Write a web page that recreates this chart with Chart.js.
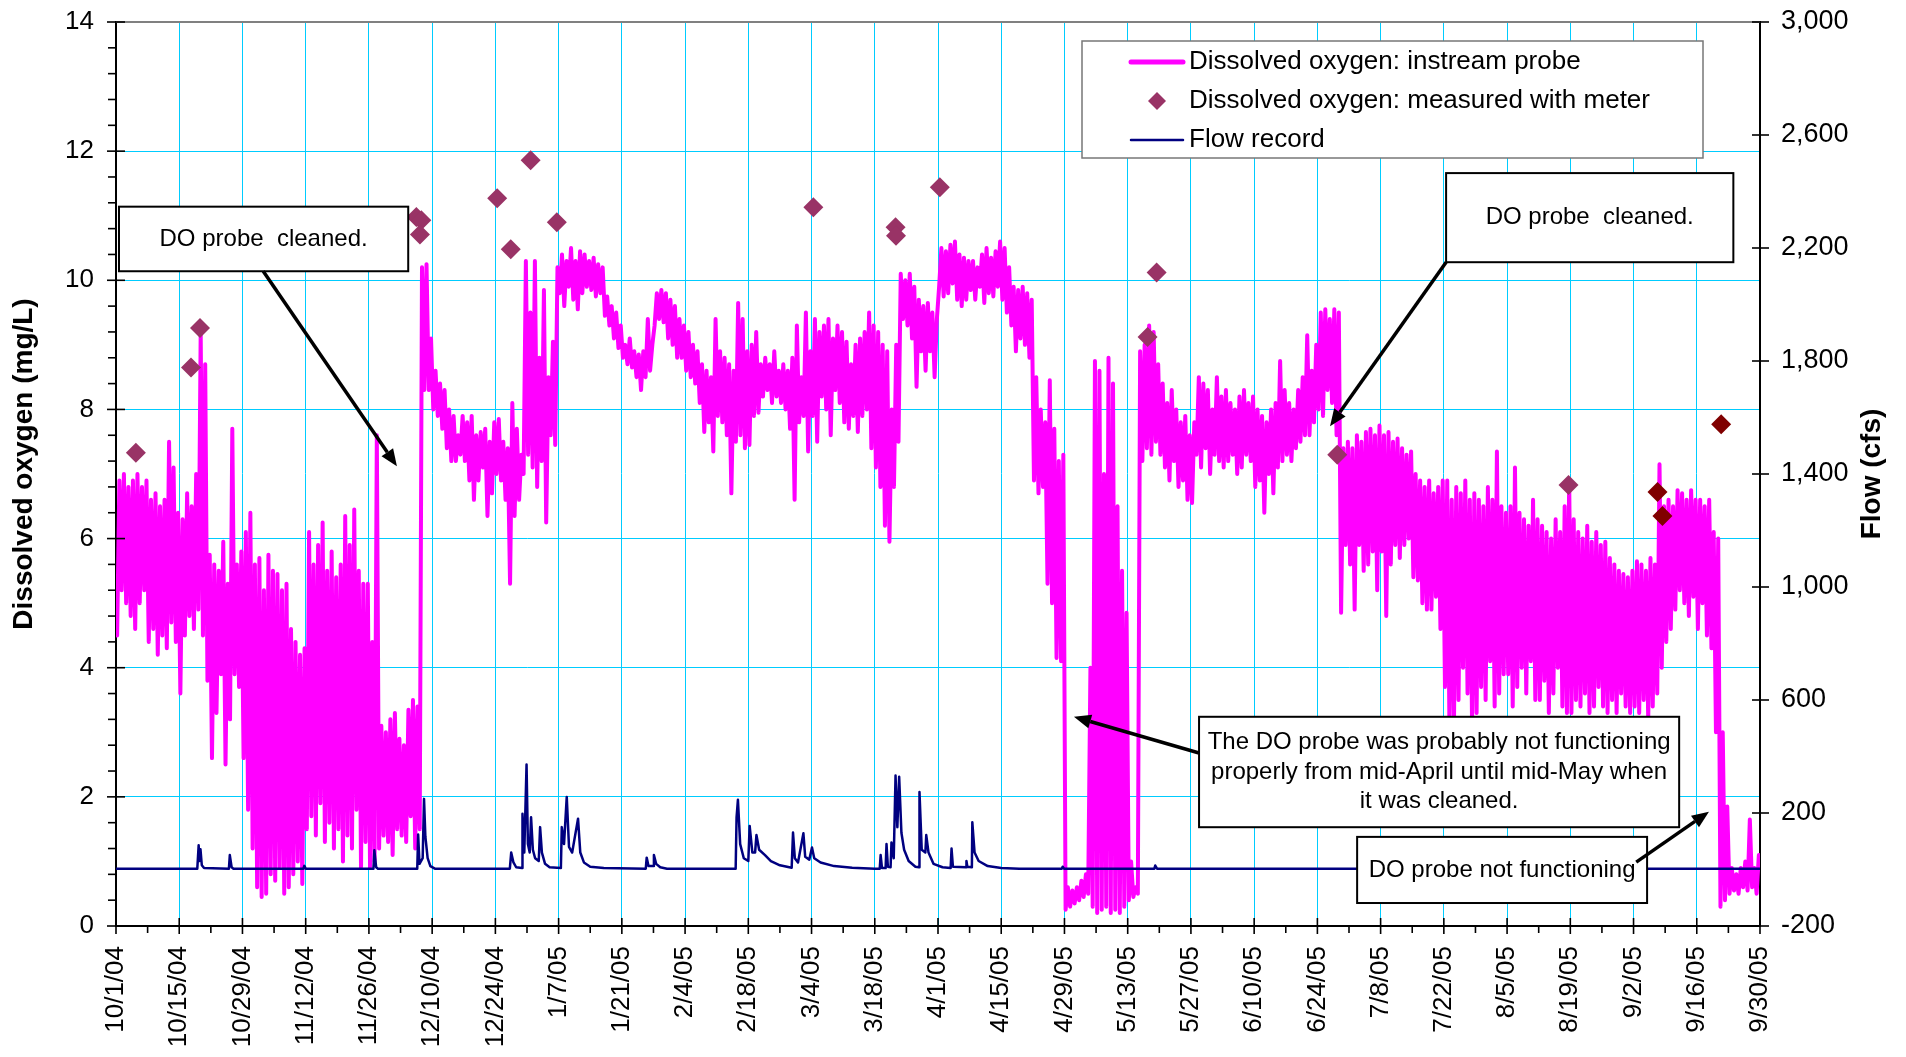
<!DOCTYPE html>
<html>
<head>
<meta charset="utf-8">
<script src="https://cdn.jsdelivr.net/npm/chart.js@4.4.1/dist/chart.umd.min.js"></script>
<style>
html,body{margin:0;padding:0;background:#fff;}
#wrap{width:1906px;height:1057px;position:relative;}
</style>
</head>
<body>
<div id="wrap"><canvas id="c" width="1906" height="1057"></canvas></div>
<script>
// ---------- DATA ----------
// x axis: days since 10/1/04, labelled every 14 days
const tickLabels = ['10/1/04','10/15/04','10/29/04','11/12/04','11/26/04','12/10/04','12/24/04','1/7/05','1/21/05','2/4/05','2/18/05','3/4/05','3/18/05','4/1/05','4/15/05','4/29/05','5/13/05','5/27/05','6/10/05','6/24/05','7/8/05','7/22/05','8/5/05','8/19/05','9/2/05','9/16/05','9/30/05'];

// Instream probe: daily maximum DO (mg/L), day 0 = 10/1/04
const doMax = [
6.9,7.0,6.8,6.9,7.0,6.8,6.9,  6.6,6.7,6.5,6.6,7.5,7.1,6.4,
6.3,6.7,6.5,7.0,9.2,8.7,5.75, 5.6,5.5,5.95,5.3,7.7,5.6,5.8,
6.1,6.4,5.6,5.7,5.2,5.75,5.5, 5.45,5.2,5.3,4.6,4.4,4.2,4.3,
6.1,5.6,5.9,6.25,5.5,5.8,5.4, 5.6,6.35,5.9,6.45,5.5,5.3,5.3,
4.4,7.6,3.1,3.0,3.2,3.3,2.9,  2.8,3.35,3.5,3.4,10.2,10.25,9.1,
8.6,8.4,8.3,8.0,7.9,7.6,7.9,  7.8,7.9,7.6,7.65,7.7,7.5,7.8,
7.85,7.5,7.4,8.1,7.7,7.3,10.3, 9.5,10.3,8.8,9.85,8.5,9.05,10.2,
10.4,10.3,10.5,10.3,10.45,10.4,10.3, 10.35,10.25,10.2,9.75,9.6,9.5,9.3,
9.0,9.1,8.9,8.85,8.9,9.4,9.0, 9.8,9.85,9.8,9.7,9.6,9.4,9.3,
9.2,9.0,8.9,8.7,8.6,8.5,9.4,  8.9,8.8,8.7,8.6,9.65,9.4,8.9,
9.0,9.2,8.7,8.8,8.7,8.9,8.6,  8.7,8.6,8.8,9.3,8.5,9.5,8.9,
9.4,9.2,9.3,9.4,9.1,9.3,9.2,  9.05,8.7,9.0,9.1,9.2,9.5,9.3,
9.2,9.0,8.9,8.0,9.0,10.1,10.0, 10.1,9.9,9.7,9.6,9.65,9.5,9.4,
10.5,10.45,10.55,10.6,10.4,10.35,10.3, 10.3,10.2,10.4,10.5,10.35,10.45,10.6,
10.5,10.2,9.9,9.85,9.9,9.8,9.7, 8.5,8.0,7.8,8.45,7.7,7.2,7.3,
0.6,0.55,0.6,0.7,0.8,4.0,8.75, 8.6,7.0,8.8,8.4,6.5,5.5,4.85,
1.0,0.6,8.9,9.0,9.3,9.2,8.7,  8.4,8.1,8.3,8.0,7.8,7.9,7.6,
7.8,8.5,8.4,8.3,8.0,8.5,8.2,  8.3,8.1,8.0,8.2,8.3,8.1,8.2,
8.0,7.9,7.8,8.0,8.1,8.75,8.3, 8.1,8.0,8.3,8.5,9.15,8.6,9.0,
9.5,9.55,9.4,9.55,9.5,7.4,7.5, 7.4,7.6,7.5,7.65,7.7,7.6,7.75,
7.6,7.65,7.5,7.55,7.4,7.3,7.35, 7.0,6.9,6.8,6.9,6.7,6.8,6.9,
6.9,6.6,6.8,6.7,6.9,6.6,6.7,  6.6,6.5,6.8,6.6,7.35,6.5,6.4,
6.5,7.1,6.4,6.3,6.2,6.6,6.3,  6.2,6.1,6.0,6.3,6.1,6.5,6.9,
6.3,6.1,6.0,6.2,5.95,6.1,5.9, 5.95,5.7,5.6,5.5,5.45,5.4,5.5,
5.65,5.6,5.5,5.7,5.6,7.15,6.5, 6.6,6.5,6.75,6.7,6.6,6.75,6.6,
6.6,6.5,6.6,6.1,6.0,3.0,1.85, 0.9,0.8,0.9,1.0,1.65,0.9,1.1
];
// Instream probe: daily minimum DO (mg/L)
const doMin = [
4.5,5.2,5.0,4.8,4.6,5.0,5.2,  4.4,4.6,4.2,4.5,4.3,4.7,4.4,
3.6,4.5,4.8,4.6,4.9,4.5,3.8,  2.6,3.3,3.9,2.5,3.2,3.9,3.7,
2.6,1.8,1.2,0.6,0.45,0.5,0.8, 0.7,0.9,0.5,0.6,0.8,1.0,0.65,
1.5,1.7,1.4,1.9,1.3,1.6,1.2,  1.5,1.0,1.4,1.2,1.8,0.9,1.3,
0.9,1.0,1.2,1.4,1.3,1.1,1.5,  1.4,1.3,1.7,1.2,1.5,8.3,8.3,
8.0,7.9,7.7,7.4,7.2,7.2,7.3,  7.2,6.9,6.6,6.9,7.1,6.35,6.7,
7.0,6.9,6.6,5.3,6.35,6.6,7.0, 7.3,7.1,6.8,7.2,6.25,7.6,7.45,
9.8,9.6,9.9,9.7,9.55,9.8,9.9, 9.85,9.75,9.8,9.45,9.3,9.1,8.95,
8.8,8.7,8.65,8.5,8.3,8.5,8.6, 9.3,9.4,9.35,9.1,9.0,8.8,8.8,
8.6,8.5,8.4,8.1,7.65,7.8,7.35, 7.9,7.8,7.6,6.7,7.5,7.6,7.4,
7.45,7.9,7.95,8.2,8.3,8.1,8.2, 8.1,8.0,7.7,6.6,7.8,7.9,7.35,
7.9,7.5,8.2,8.0,7.6,8.3,8.1,  7.8,7.7,7.9,7.65,7.9,8.0,7.4,
7.1,6.8,6.2,5.95,6.8,7.5,9.4, 9.3,9.1,8.35,8.9,8.6,8.9,8.5,
9.9,9.75,9.8,9.95,9.7,9.6,9.7, 9.85,9.7,9.9,9.65,9.8,9.75,9.9,
9.7,9.5,9.3,8.9,9.1,9.0,8.8,  6.9,6.7,6.8,5.3,5.0,4.15,4.1,
0.25,0.3,0.35,0.4,0.45,0.5,0.3, 0.2,0.25,0.3,0.2,0.25,0.2,0.3,
0.4,0.45,0.5,7.2,7.4,7.3,7.5, 7.3,7.1,6.9,7.2,6.8,6.9,6.6,
6.55,7.3,7.1,7.4,7.0,7.3,7.2, 7.1,7.2,7.3,7.0,7.1,7.3,7.2,
6.8,6.9,6.4,7.0,6.7,7.1,7.2,  7.3,7.2,7.4,7.5,7.6,7.6,7.8,
8.0,7.9,8.3,8.1,7.6,4.85,5.9, 5.6,4.9,5.9,5.5,5.6,5.8,5.2,
5.8,4.8,5.6,5.9,5.7,5.9,6.0,  5.4,5.35,5.0,4.9,4.9,5.1,4.6,
3.7,3.0,3.2,3.5,4.0,3.6,3.1,  3.3,3.7,3.5,4.1,3.4,3.6,3.9,
3.9,3.4,3.7,4.0,3.6,4.1,3.5,  3.5,3.8,3.3,3.6,4.0,3.4,3.3,
3.3,3.5,3.4,3.6,3.3,3.4,3.7,  3.4,3.3,3.5,3.3,3.6,3.4,3.3,
3.4,3.3,3.5,3.2,3.4,3.6,4.0,  4.4,4.6,4.9,5.2,5.0,4.8,5.1,
4.6,5.0,4.5,4.3,3.0,0.3,0.4,  0.5,0.55,0.5,0.6,0.55,0.6,0.5
];

// DO measured with meter
const meterDays = [4.4,16.6,18.6,66.5,67.6,67.3,84.4,87.4,91.8,97.6,154.4,172.6,172.7,182.4,228.4,230.4,270.4,321.6];
const meterDO   = [7.33,8.65,9.26,10.98,10.93,10.71,11.27,10.48,11.86,10.9,11.13,10.82,10.69,11.44,9.12,10.12,7.3,6.83];
const meterLateDays = [341.3,342.4,355.4];
const meterLateDO   = [6.72,6.35,7.77];

// Flow record (cfs)
const flowDays = [0,18.0,18.3,18.5,18.7,19.0,19.5,25.0,25.2,25.6,26,41.5,41.7,42.0,57.0,57.2,57.6,58,66.7,66.9,67.2,67.9,68.2,68.5,69.0,69.6,70.6,
87.2,87.5,88,88.6,89.9,90.0,90.4,90.9,91.2,91.6,91.9,92.3,92.8,93.6,93.9,94.3,95,96,98.5,98.7,99.2,99.8,100.3,101,102.3,102.8,103.6,105,108,
117.3,117.5,117.9,118.9,119.1,119.6,120.5,122,137.2,137.4,137.7,138.2,139,140.0,140.3,140.9,141.5,141.8,142.4,143.7,145,147,149.6,149.9,150.3,151,152.2,152.6,153.5,154.1,154.6,156,159,163,168,
169.1,169.3,169.6,170.4,170.6,170.9,171.5,171.7,172.2,172.6,173.0,173.4,173.9,174.5,175.5,177.0,177.8,177.9,178.4,179.2,179.4,179.9,181,183,184.8,185.0,185.3,188.2,188.3,188.5,189.5,189.6,190.1,191,193,196,200,
209.4,209.6,209.9,229.9,230.1,230.5,364];
const flowCfs = [3,3,86,30,72,15,5,3,51,8,3,3,13,3,3,68,8,3,3,124,20,40,250,116,40,12,3,
3,60,25,8,5,197,60,372,90,60,185,70,40,30,150,60,20,8,5,150,90,257,80,60,180,60,25,10,5,
3,42,12,12,51,20,8,3,3,185,247,90,40,30,154,60,60,122,70,51,30,15,6,131,40,25,128,45,35,78,40,25,12,6,3,
3,51,5,5,90,10,8,96,40,333,150,328,130,70,30,10,8,274,70,60,122,60,20,8,5,74,10,8,30,10,8,167,60,30,12,5,3,
3,10,3,3,14,3,3];

// ---------- CHART ----------
const FONT = "'Liberation Sans', Arial, sans-serif";
Chart.defaults.font.family = FONT;
Chart.defaults.color = '#000';

const probeData = doMin.flatMap((mn, i) => [{x: i + 0.25, y: mn}, {x: i + 0.75, y: doMax[i]}]);
const meterData = meterDays.map((d, i) => ({x: d, y: meterDO[i]}));
const meterLateData = meterLateDays.map((d, i) => ({x: d, y: meterLateDO[i]}));
const flowData = flowDays.map((d, i) => ({x: d, y: flowCfs[i]}));

const GRID = '#00CCFF';

const notes = [
  {x0: 0.66, x1: 64.7, y0: 11.14, y1: 10.14, lines: ['DO probe  cleaned.'], from: [32.6, 10.14], to: [62.2, 7.12]},
  {x0: 294.5, x1: 358.1, y0: 11.66, y1: 10.28, lines: ['DO probe  cleaned.'], from: [294.5, 10.28], to: [268.8, 7.74]},
  {x0: 239.8, x1: 346.1, y0: 3.24, y1: 1.53, lines: ['The DO probe was probably not functioning', 'properly from mid-April until mid-May when', 'it was cleaned.'], from: [239.8, 2.68], to: [212.1, 3.24]},
  {x0: 274.8, x1: 339.0, y0: 1.38, y1: 0.356, lines: ['DO probe not functioning'], from: [336.6, 0.99], to: [352.7, 1.77]}
];

function seg(ctx, x1, y1, x2, y2) { ctx.beginPath(); ctx.moveTo(x1, y1); ctx.lineTo(x2, y2); ctx.stroke(); }
function arrow(ctx, x1, y1, x2, y2) {
  const ang = Math.atan2(y2 - y1, x2 - x1), L = 17, W = 7;
  const bx = x2 - L * Math.cos(ang), by = y2 - L * Math.sin(ang);
  ctx.lineWidth = 3.5; ctx.strokeStyle = '#000'; ctx.lineCap = 'butt';
  seg(ctx, x1, y1, bx, by);
  ctx.beginPath();
  ctx.moveTo(x2, y2);
  ctx.lineTo(bx + W * Math.sin(ang), by - W * Math.cos(ang));
  ctx.lineTo(bx - W * Math.sin(ang), by + W * Math.cos(ang));
  ctx.closePath(); ctx.fillStyle = '#000'; ctx.fill();
}

const deco = {
  id: 'deco',
  afterDraw(chart) {
    const ctx = chart.ctx;
    const {left, right, top, bottom} = chart.chartArea;
    const xs = chart.scales.x, ys = chart.scales.y, y2 = chart.scales.y2;
    ctx.save();
    // top border
    ctx.strokeStyle = '#808080'; ctx.lineWidth = 2;
    seg(ctx, left, top, right, top);
    // tick marks
    ctx.strokeStyle = '#000'; ctx.lineWidth = 1.6;
    for (let d = 0; d <= 364; d += 7) {
      const px = xs.getPixelForValue(d);
      if (d % 14 === 0) seg(ctx, px, bottom - 8, px, bottom + 8); else seg(ctx, px, bottom, px, bottom + 7);
    }
    for (let k = 0; k <= 35; k++) {
      const py = ys.getPixelForValue(k * 0.4);
      if (k % 5 === 0) seg(ctx, left - 9, py, left + 9, py); else seg(ctx, left - 8, py, left, py);
    }
    for (let f = -200; f <= 3000; f += 400) {
      const py = y2.getPixelForValue(f);
      seg(ctx, right - 8, py, right + 9, py);
    }
    // axis titles
    ctx.fillStyle = '#000';
    ctx.font = "bold 28px " + FONT;
    ctx.textAlign = 'center'; ctx.textBaseline = 'middle';
    ctx.save(); ctx.translate(24, 464); ctx.rotate(-Math.PI / 2); ctx.fillText('Dissolved oxygen (mg/L)', 0, 0); ctx.restore();
    ctx.save(); ctx.translate(1872, 474); ctx.rotate(-Math.PI / 2); ctx.fillText('Flow (cfs)', 0, 0); ctx.restore();

    // legend
    ctx.fillStyle = '#fff'; ctx.fillRect(1082, 41, 621, 117);
    ctx.strokeStyle = '#777'; ctx.lineWidth = 1.5; ctx.strokeRect(1082, 41, 621, 117);
    ctx.lineCap = 'round';
    ctx.strokeStyle = '#FF00FF'; ctx.lineWidth = 5; seg(ctx, 1131, 62, 1183, 62);
    ctx.fillStyle = '#993366';
    ctx.beginPath(); ctx.moveTo(1157, 92); ctx.lineTo(1166, 101); ctx.lineTo(1157, 110); ctx.lineTo(1148, 101); ctx.closePath(); ctx.fill();
    ctx.strokeStyle = '#000080'; ctx.lineWidth = 2.5; seg(ctx, 1131, 140, 1183, 140);
    ctx.fillStyle = '#000'; ctx.font = "26px " + FONT; ctx.textAlign = 'left';
    ctx.fillText('Dissolved oxygen: instream probe', 1189, 62);
    ctx.fillText('Dissolved oxygen: measured with meter', 1189, 101);
    ctx.fillText('Flow record', 1189, 140);

    // annotations
    ctx.font = "24px " + FONT;
    notes.forEach(n => {
      const bx0 = xs.getPixelForValue(n.x0), bx1 = xs.getPixelForValue(n.x1);
      const by0 = ys.getPixelForValue(n.y0), by1 = ys.getPixelForValue(n.y1);
      ctx.fillStyle = '#fff'; ctx.fillRect(bx0, by0, bx1 - bx0, by1 - by0);
      ctx.strokeStyle = '#000'; ctx.lineWidth = 2; ctx.strokeRect(bx0, by0, bx1 - bx0, by1 - by0);
      ctx.fillStyle = '#000'; ctx.textAlign = 'center'; ctx.textBaseline = 'middle';
      const cx = (bx0 + bx1) / 2, cy = (by0 + by1) / 2, lh = 29.5;
      n.lines.forEach((t, i) => ctx.fillText(t, cx, cy + (i - (n.lines.length - 1) / 2) * lh));
    });
    notes.forEach(n => {
      arrow(ctx, xs.getPixelForValue(n.from[0]), ys.getPixelForValue(n.from[1]),
                 xs.getPixelForValue(n.to[0]), ys.getPixelForValue(n.to[1]));
    });
    ctx.restore();
  }
};

function fixVertical(width) {
  return (s) => { s.width = width; s.paddingTop = 0; s.paddingBottom = 0; };
}

new Chart(document.getElementById('c'), {
  type: 'line',
  data: {
    datasets: [
      {label: 'Flow record', data: flowData, yAxisID: 'y2', borderColor: '#000080', borderWidth: 2.5,
       pointRadius: 0, tension: 0, borderJoinStyle: 'round', order: 1},
      {label: 'Dissolved oxygen: measured with meter', data: meterData, yAxisID: 'y', showLine: false,
       pointStyle: 'rectRot', pointRadius: 10, backgroundColor: '#993366', borderColor: '#993366', borderWidth: 0, order: 2},
      {label: 'meter (late)', data: meterLateData, yAxisID: 'y', showLine: false,
       pointStyle: 'rectRot', pointRadius: 10, backgroundColor: '#800000', borderColor: '#800000', borderWidth: 0, order: 2},
      {label: 'Dissolved oxygen: instream probe', data: probeData, yAxisID: 'y', borderColor: '#FF00FF', borderWidth: 4,
       pointRadius: 0, tension: 0, borderJoinStyle: 'round', borderCapStyle: 'round', order: 3}
    ]
  },
  options: {
    responsive: false,
    animation: false,
    layout: {padding: {top: 22, left: 0, right: 0, bottom: 0}},
    plugins: {legend: {display: false}, tooltip: {enabled: false}},
    scales: {
      x: {
        type: 'linear', min: 0, max: 364, position: 'bottom',
        ticks: {stepSize: 14, autoSkip: false, maxRotation: 90, minRotation: 90, padding: 20,
                font: {size: 26}, color: '#000', callback: (v) => tickLabels[Math.round(v / 14)]},
        grid: {color: GRID, lineWidth: 1, drawTicks: false},
        border: {display: true, color: '#000', width: 2},
        afterFit: (s) => { s.height = 131; s.paddingLeft = 0; s.paddingRight = 0; }
      },
      y: {
        type: 'linear', position: 'left', min: 0, max: 14,
        ticks: {stepSize: 2, padding: 22, font: {size: 26}, color: '#000'},
        grid: {color: GRID, lineWidth: 1, drawTicks: false},
        border: {display: true, color: '#000', width: 2},
        afterFit: fixVertical(116)
      },
      y2: {
        type: 'linear', position: 'right', min: -200, max: 3000,
        ticks: {stepSize: 400, padding: 21, font: {size: 27}, color: '#000',
                callback: (v) => v.toLocaleString('en-US')},
        grid: {drawOnChartArea: false, drawTicks: false},
        border: {display: true, color: '#000', width: 2},
        afterFit: fixVertical(146)
      }
    }
  },
  plugins: [deco]
});
</script>
</body>
</html>
